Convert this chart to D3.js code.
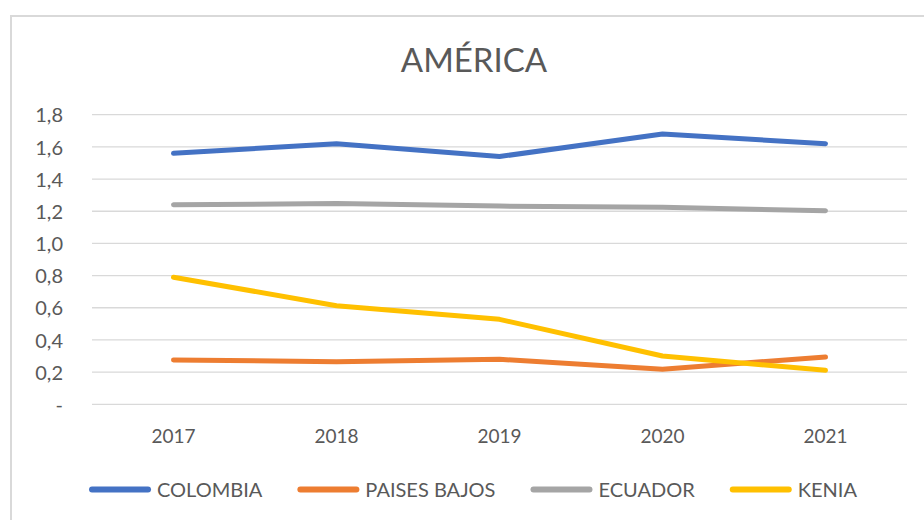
<!DOCTYPE html>
<html>
<head>
<meta charset="utf-8">
<script src="https://cdn.jsdelivr.net/npm/d3@7"></script>
<style>
  html, body { margin: 0; padding: 0; background: #fff; }
  svg { display: block; font-family: Lato, "Open Sans", sans-serif; }
</style>
</head>
<body>
<svg id="chart" width="924" height="520"></svg>
<script>
const title = "AMÉRICA";
const years = ["2017", "2018", "2019", "2020", "2021"];
const seriesNames = ["COLOMBIA", "PAISES BAJOS", "ECUADOR", "KENIA"];
const colombia = [1.56, 1.62, 1.54, 1.68, 1.62];
const paisesBajos = [0.275, 0.265, 0.28, 0.218, 0.294];
const ecuador = [1.24, 1.248, 1.232, 1.224, 1.203];
const kenia = [0.79, 0.613, 0.528, 0.30, 0.211];
const yTicks = [0, 0.2, 0.4, 0.6, 0.8, 1.0, 1.2, 1.4, 1.6, 1.8];
const colors = ["#4472C4", "#ED7D31", "#A5A5A5", "#FFC000"];

const seriesValues = [colombia, paisesBajos, ecuador, kenia];
const series = seriesNames.map((name, i) => ({ name, color: colors[i], values: seriesValues[i] }));

const svg = d3.select("#chart");
const textColor = "#595959";

// chart border
svg.append("rect")
  .attr("x", 11).attr("y", 16)
  .attr("width", 940).attr("height", 540)
  .attr("fill", "#fff").attr("stroke", "#D9D9D9").attr("stroke-width", 2);

const x = d3.scaleBand().domain(years).range([92, 907]);
const y = d3.scaleLinear().domain([0, 1.8]).range([404.3, 114.7]);

// gridlines
svg.append("g").selectAll("line").data(yTicks).join("line")
  .attr("x1", 92).attr("x2", 907)
  .attr("y1", d => y(d)).attr("y2", d => y(d))
  .attr("stroke", "#D9D9D9").attr("stroke-width", 1.3);

// y axis labels
const fmt = d => d === 0 ? "-" : d3.format(".1f")(d).replace(".", ",");
const yAxis = d3.axisLeft(y).tickValues(yTicks).tickFormat(fmt).tickSize(0).tickPadding(0);
const gy = svg.append("g").attr("transform", "translate(63,0)").call(yAxis);
gy.select(".domain").remove();
gy.selectAll("text")
  .attr("fill", textColor).attr("font-size", 20)
  .attr("font-family", "Lato, sans-serif")
  .attr("dy", "0.36em");

// x axis labels
const xAxis = d3.axisBottom(x).tickSize(0).tickPadding(0);
const gx = svg.append("g").attr("transform", "translate(0,443)").call(xAxis);
gx.select(".domain").remove();
gx.selectAll("text")
  .attr("fill", textColor).attr("font-size", 19)
  .attr("font-family", "Lato, sans-serif")
  .attr("dy", 0).attr("y", 0);

// lines
const line = d3.line()
  .x((d, i) => x(years[i]) + x.bandwidth() / 2)
  .y(d => y(d));
svg.append("g").selectAll("path").data(series).join("path")
  .attr("d", d => line(d.values))
  .attr("fill", "none")
  .attr("stroke", d => d.color)
  .attr("stroke-width", 5)
  .attr("stroke-linecap", "round")
  .attr("stroke-linejoin", "round");

// title
svg.append("text")
  .attr("x", 474).attr("y", 72)
  .attr("text-anchor", "middle")
  .attr("fill", textColor)
  .attr("font-size", 33)
  .text(title);

// legend
const legend = svg.append("g");
const items = legend.selectAll("g").data(series).join("g");
items.append("line")
  .attr("x1", 0).attr("x2", 56).attr("y1", 0).attr("y2", 0)
  .attr("stroke", d => d.color).attr("stroke-width", 6)
  .attr("stroke-linecap", "round");
items.append("text")
  .attr("x", 65).attr("y", 0).attr("dy", "0.36em")
  .attr("fill", textColor).attr("font-size", 20)
  .text(d => d.name);
let cx = 0;
const offs = [];
items.each(function () {
  const w = d3.select(this).select("text").node().getComputedTextLength();
  offs.push(cx);
  cx += 65 + w + 38;
});
const total = cx - 38;
const startX = 474.5 - total / 2;
items.attr("transform", (d, i) => `translate(${startX + offs[i]},489.5)`);
</script>
</body>
</html>
